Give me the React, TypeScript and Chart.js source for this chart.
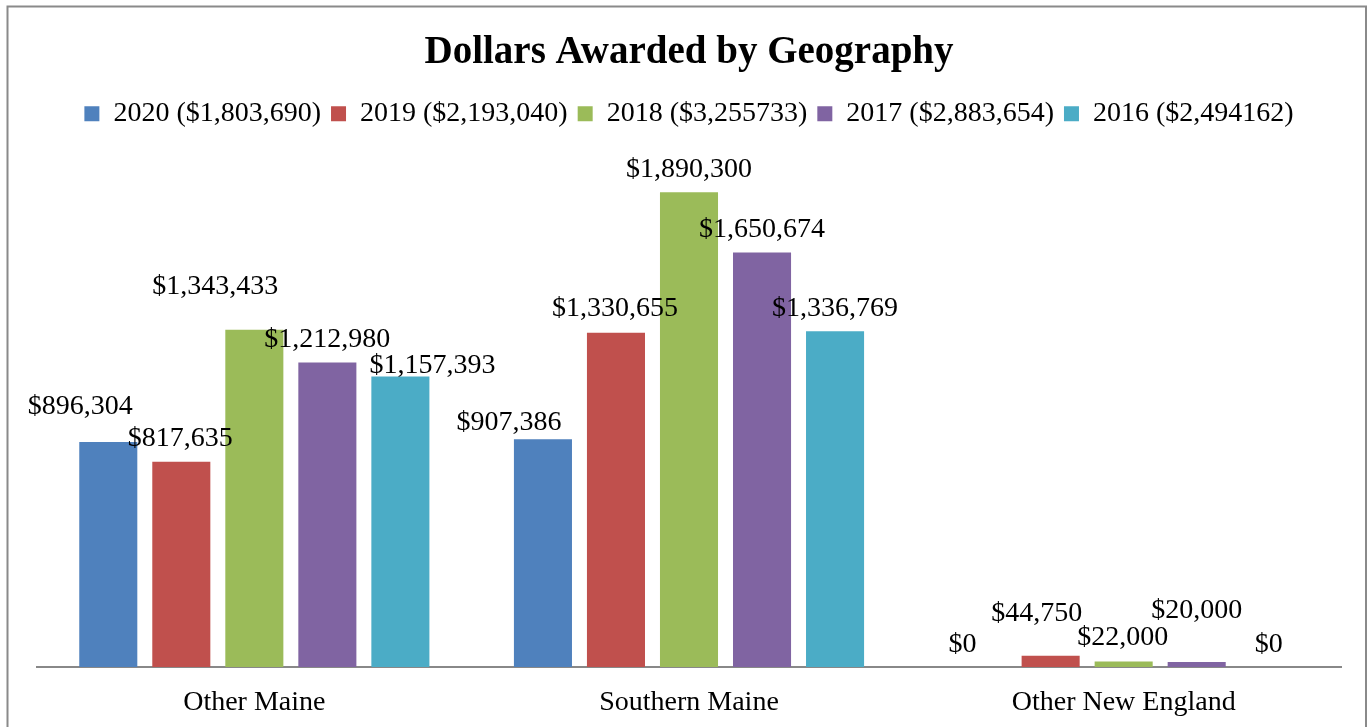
import React, { useEffect, useRef } from "react";
import { Chart, registerables } from "chart.js";

Chart.register(...registerables);

const categories = ["Other Maine", "Southern Maine", "Other New England"];
const seriesLabels = [
  "2020 ($1,803,690)",
  "2019 ($2,193,040)",
  "2018 ($3,255733)",
  "2017 ($2,883,654)",
  "2016 ($2,494162)",
];
const values2020 = [896304, 907386, 0];
const values2019 = [817635, 1330655, 44750];
const values2018 = [1343433, 1890300, 22000];
const values2017 = [1212980, 1650674, 20000];
const values2016 = [1157393, 1336769, 0];
const colors = ["#4F81BD", "#C0504D", "#9BBB59", "#8064A2", "#4BACC6"];

// label nudges (dx, distance above bar top), as placed in the original
const labelNudges = [
  [[-28, 38], [-34, 20], [-15, 25]],
  [[-1, 26], [-1, 27], [-14, 45]],
  [[-39, 46], [0, 26], [-1, 27]],
  [[0, 26], [0, 26], [0, 54]],
  [[32, 14], [0, 26], [-1, 25]],
];

const FONT = "'Liberation Serif', 'Times New Roman', serif";

const fmt = (v: number) => "$" + v.toLocaleString("en-US");

const frameAndLabels = {
  id: "frameAndLabels",
  beforeDraw(chart: any) {
    const ctx = chart.ctx;
    ctx.save();
    ctx.fillStyle = "#ffffff";
    ctx.fillRect(0, 0, chart.width, chart.height);
    ctx.strokeStyle = "#8a8a8a";
    ctx.lineWidth = 2;
    ctx.strokeRect(7.5, 6.5, 1358.5, 800);
    ctx.restore();
  },
  afterDatasetsDraw(chart: any) {
    const ctx = chart.ctx;
    ctx.save();
    ctx.font = `28px ${FONT}`;
    ctx.fillStyle = "#000000";
    ctx.textAlign = "center";
    ctx.textBaseline = "middle";
    chart.data.datasets.forEach((ds: any, i: number) => {
      const meta = chart.getDatasetMeta(i);
      meta.data.forEach((bar: any, j: number) => {
        const [dx, dy] = labelNudges[i][j];
        ctx.fillText(fmt(ds.data[j]), bar.x + dx, bar.y - dy + 3);
      });
    });
    ctx.restore();
  },
};

export default function App() {
  const ref = useRef<HTMLCanvasElement>(null);
  useEffect(() => {
    if (!ref.current) return;
    const all = [values2020, values2019, values2018, values2017, values2016];
    const chart = new Chart(ref.current, {
      type: "bar",
      data: {
        labels: categories,
        datasets: all.map((d, i) => ({
          label: seriesLabels[i],
          data: d,
          backgroundColor: colors[i],
          borderWidth: 0,
          categoryPercentage: 0.84,
          barPercentage: 0.795,
        })),
      },
      options: {
        responsive: false,
        animation: false,
        devicePixelRatio: 1,
        layout: { padding: { top: 0, left: 37, right: 30, bottom: 0 } },
        font: { family: FONT },
        plugins: {
          tooltip: { enabled: false },
          title: {
            display: true,
            text: "Dollars Awarded by Geography",
            color: "#000000",
            font: { family: FONT, size: 39, weight: "bold" },
            padding: { top: 30, bottom: 13 },
          },
          legend: {
            display: true,
            position: "top",
            labels: {
              color: "#000000",
              font: { family: FONT, size: 28 },
              boxWidth: 15,
              boxHeight: 15,
              padding: 10,
            },
          },
        },
        scales: {
          x: {
            position: "bottom",
            grid: { display: false, drawTicks: false },
            border: { display: true, color: "#888888", width: 2 },
            ticks: {
              color: "#000000",
              font: { family: FONT, size: 28 },
              padding: 19,
              maxRotation: 0,
            },
            afterFit: (scale: any) => {
              scale.height = 60;
            },
          },
          xTop: {
            type: "category",
            position: "top",
            grid: { display: false, drawTicks: false },
            border: { display: false },
            ticks: { display: false },
            afterFit: (scale: any) => {
              scale.height = 27;
            },
          },
          y: {
            display: false,
            min: 0,
            max: 2000000,
          },
        },
      } as any,
      plugins: [frameAndLabels],
    });
    return () => chart.destroy();
  }, []);
  return (
    <div
      style={{
        position: "fixed",
        left: 0,
        top: 0,
        width: 1371,
        height: 727,
        overflow: "hidden",
        background: "#fff",
      }}
    >
      <canvas ref={ref} width={1371} height={727} style={{ display: "block", width: 1371, height: 727 }} />
    </div>
  );
}
